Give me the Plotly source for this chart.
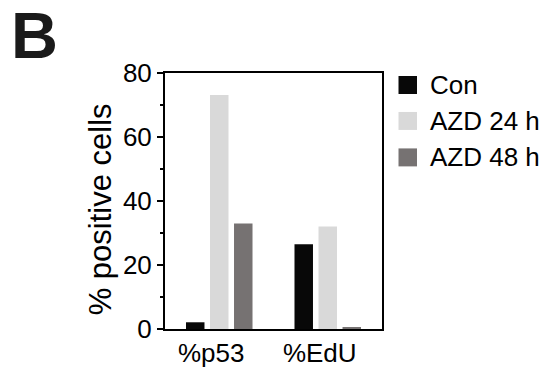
import plotly.graph_objects as go

categories = ["%p53", "%EdU"]
series_names = ["Con", "AZD 24 h", "AZD 48 h"]
con_values = [2.1, 26.5]
azd24_values = [73.1, 32.0]
azd48_values = [33.0, 0.5]
colors = ["#080808", "#d9d9d9", "#767272"]
y_ticks = [0, 20, 40, 60, 80]

W, H = 545, 371
L, R, T, B = 165, 382, 73, 329.3

def px(x):
    return (x - L) / (R - L)

def py(y):
    return (B - y) / (B - T)

FONT = "Liberation Sans, Arial, Helvetica, sans-serif"

fig = go.Figure()
for name, vals, col in zip(series_names, [con_values, azd24_values, azd48_values], colors):
    fig.add_trace(go.Bar(x=categories, y=vals, name=name, marker=dict(color=col, line=dict(width=0)),
                         showlegend=False))

fig.update_layout(
    template="none",
    width=W, height=H,
    margin=dict(l=L, r=W - R, t=T, b=H - B, pad=0, autoexpand=False),
    paper_bgcolor="white", plot_bgcolor="white",
    barmode="group", bargap=0.336, bargroupgap=0.23,
    font=dict(family=FONT, color="black", size=26),
)
fig.update_xaxes(
    automargin=False,
    range=[-0.5, 1.5], showline=True, linewidth=2, linecolor="black", mirror=True,
    ticks="", showgrid=False, zeroline=False, tickfont=dict(size=26), ticklabelshift=-8,
)
fig.update_yaxes(
    automargin=False,
    range=[0, 80], tickvals=y_ticks, showline=True, linewidth=2, linecolor="black", mirror=True,
    ticks="outside", ticklen=6, tickwidth=2, tickcolor="black",
    minor=dict(dtick=10, ticks="outside", ticklen=3.5, tickwidth=2, tickcolor="black", showgrid=False),
    showgrid=False, zeroline=False, tickfont=dict(size=26),
)

ann = []
ann.append(dict(text="% positive cells", x=px(100), y=py(209.5), xref="paper", yref="paper",
                xanchor="center", yanchor="middle", textangle=-90, showarrow=False,
                font=dict(size=31, family=FONT, color="black")))
ann.append(dict(text="<b>B</b>", x=px(9), y=py(35), xref="paper", yref="paper",
                xanchor="left", yanchor="middle", showarrow=False,
                font=dict(size=65, family=FONT, color="#1a1a1a")))

shapes = []
legend_centers = [85, 121, 157.5]
for name, col, cy in zip(series_names, colors, legend_centers):
    shapes.append(dict(type="rect", xref="paper", yref="paper",
                       x0=px(398.5), x1=px(417), y0=py(cy + 9), y1=py(cy - 9),
                       fillcolor=col, line=dict(width=0)))
    ann.append(dict(text=name, x=px(428), y=py(cy), xref="paper", yref="paper",
                    xanchor="left", yanchor="middle", showarrow=False,
                    font=dict(size=26, family=FONT, color="black")))

fig.update_layout(annotations=ann, shapes=shapes)
fig.write_html("out.html", config={"displayModeBar": False},
               post_script="document.body.style.margin='0px';")
